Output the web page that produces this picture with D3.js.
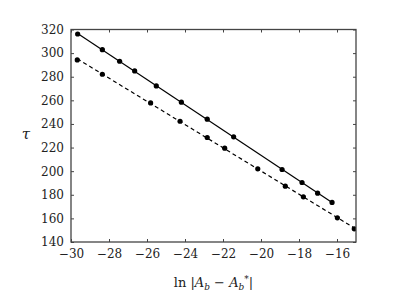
<!DOCTYPE html>
<html>
<head>
<meta charset="utf-8">
<script src="https://cdn.jsdelivr.net/npm/d3@7"></script>
<style>
  body { margin: 0; background: #fff; }
</style>
</head>
<body>
<svg id="chart"></svg>
<script>
const w = 395;
const h = 296;
const mIzq = 71, mDer = 356, mSup = 29.5, mInf = 242;
const fuente = '"DejaVu Serif", serif';

// solid series
const xSolid = [-29.65, -28.35, -27.44, -26.65, -25.51, -24.19, -22.83, -21.44, -18.89, -17.84, -17.02, -16.26];
const ySolid = [316.2, 302.9, 293.1, 284.9, 272.2, 258.4, 244.0, 229.1, 201.4, 190.4, 181.4, 173.5];
// dashed series
const xDash = [-29.67, -28.35, -25.81, -24.26, -22.83, -21.91, -20.17, -18.72, -17.77, -15.98, -15.09];
const yDash = [294.2, 282.1, 257.8, 242.3, 228.5, 219.5, 202.0, 187.3, 178.3, 160.5, 151.2];

const xTicks = [-30, -28, -26, -24, -22, -20, -18, -16];
const yTicks = [140, 160, 180, 200, 220, 240, 260, 280, 300, 320];

const escalaX = d3.scaleLinear().domain([-30, -15]).range([mIzq, mDer]);
const escalaY = d3.scaleLinear().domain([140, 320]).range([mInf, mSup]);

const svg = d3.select('#chart').attr('width', w).attr('height', h);

svg.append('defs').append('clipPath').attr('id', 'clip')
  .append('rect')
  .attr('x', mIzq).attr('y', mSup)
  .attr('width', mDer - mIzq).attr('height', mInf - mSup);

// least squares fit for the guide lines
function ajuste(xs, ys) {
  const mx = d3.mean(xs), my = d3.mean(ys);
  let num = 0, den = 0;
  for (let i in xs) {
    num += (xs[i] - mx) * (ys[i] - my);
    den += (xs[i] - mx) * (xs[i] - mx);
  }
  const m = num / den;
  return x => my + m * (x - mx);
}

const fSolid = ajuste(xSolid, ySolid);
const fDash = ajuste(xDash, yDash);

const linea = d3.line().x(d => escalaX(d[0])).y(d => escalaY(d[1]));

const g = svg.append('g').attr('clip-path', 'url(#clip)');

const x0s = xSolid[0], x1s = xSolid[xSolid.length - 1];
g.append('path')
  .attr('d', linea([[x0s, fSolid(x0s)], [x1s, fSolid(x1s)]]))
  .style('stroke', '#000').style('stroke-width', 1.2).style('fill', 'none');

const x0d = xDash[0], x1d = -14.5;
g.append('path')
  .attr('d', linea([[x0d, fDash(x0d)], [x1d, fDash(x1d)]]))
  .style('stroke', '#000').style('stroke-width', 1.2)
  .style('stroke-dasharray', '4,3').style('fill', 'none');

g.selectAll('.ps')
  .data(xSolid)
  .enter()
  .append('circle')
  .attr('cx', d => escalaX(d))
  .attr('cy', (d, i) => escalaY(ySolid[i]))
  .attr('r', 2.6)
  .style('fill', '#000');

g.selectAll('.pd')
  .data(xDash)
  .enter()
  .append('circle')
  .attr('cx', d => escalaX(d))
  .attr('cy', (d, i) => escalaY(yDash[i]))
  .attr('r', 2.6)
  .style('fill', '#000');

// axes, ticks inward on all four sides
const ejeColor = '#444';
const tk = 3;

svg.append('g')
  .attr('transform', 'translate(0,' + mInf + ')')
  .call(d3.axisBottom(escalaX).tickValues(xTicks).tickSize(-tk).tickPadding(7)
    .tickFormat(d => String(d).replace('-', '\u2212')))
  .attr('font-family', fuente)
  .call(a => a.select('.domain').remove())
  .call(a => a.selectAll('line').attr('stroke', ejeColor))
  .call(a => a.selectAll('text').style('font-size', '12px').style('font-family', fuente).attr('fill', '#222'));

svg.append('g')
  .attr('transform', 'translate(0,' + mSup + ')')
  .call(d3.axisTop(escalaX).tickValues(xTicks).tickSize(-tk).tickFormat(''))
  .call(a => a.select('.domain').remove())
  .call(a => a.selectAll('line').attr('stroke', ejeColor));

svg.append('g')
  .attr('transform', 'translate(' + mIzq + ',0)')
  .call(d3.axisLeft(escalaY).tickValues(yTicks).tickSize(-tk).tickPadding(7))
  .attr('font-family', fuente)
  .call(a => a.select('.domain').remove())
  .call(a => a.selectAll('line').attr('stroke', ejeColor))
  .call(a => a.selectAll('text').style('font-size', '12px').style('font-family', fuente).attr('fill', '#222'));

svg.append('g')
  .attr('transform', 'translate(' + mDer + ',0)')
  .call(d3.axisRight(escalaY).tickValues(yTicks).tickSize(-tk).tickFormat(''))
  .call(a => a.select('.domain').remove())
  .call(a => a.selectAll('line').attr('stroke', ejeColor));

svg.append('rect')
  .attr('x', mIzq).attr('y', mSup)
  .attr('width', mDer - mIzq).attr('height', mInf - mSup)
  .style('fill', 'none').style('stroke', ejeColor).style('stroke-width', 1.3);

// axis titles
const tx = svg.append('text')
  .attr('x', (mIzq + mDer) / 2).attr('y', 287)
  .attr('text-anchor', 'middle')
  .style('font-family', fuente)
  .style('font-size', '13px').attr('fill', '#222');
tx.append('tspan').text('ln |');
tx.append('tspan').style('font-style', 'italic').text('A');
tx.append('tspan').style('font-style', 'italic').style('font-size', '9px').attr('dy', 3).text('b');
tx.append('tspan').attr('dy', -3).text(' \u2212 ');
tx.append('tspan').style('font-style', 'italic').text('A');
tx.append('tspan').style('font-style', 'italic').style('font-size', '9px').attr('dy', 3).text('b');
tx.append('tspan').style('font-size', '9px').attr('dy', -8).text('*');
tx.append('tspan').attr('dy', 5).text('|');

svg.append('text')
  .attr('x', 26).attr('y', 139)
  .attr('text-anchor', 'middle')
  .style('font-family', fuente)
  .style('font-size', '15px').style('font-style', 'italic').attr('fill', '#222')
  .text('\u03c4');
</script>
</body>
</html>
